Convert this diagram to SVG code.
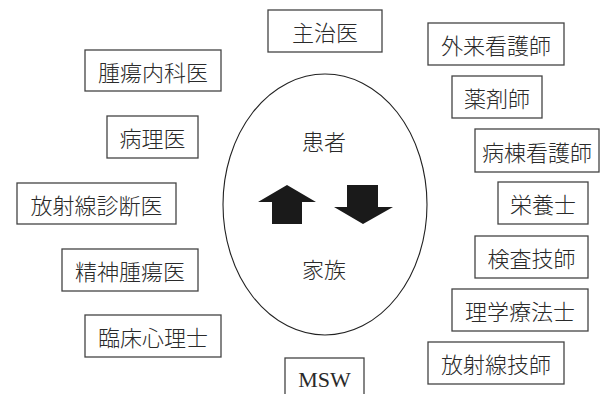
<svg xmlns="http://www.w3.org/2000/svg" width="603" height="394" viewBox="0 0 603 394">
<style>
.box{fill:#fff;stroke:#444;stroke-width:1.3}
.t{font-family:"Noto Sans CJK JP","Noto Sans CJK SC",sans-serif;font-size:22px;font-weight:300;fill:#2a2a2a;text-anchor:middle;dominant-baseline:central}
.s{font-family:"Liberation Serif",serif;font-size:22px;fill:#2a2a2a;text-anchor:middle}
.arr{fill:#1a1a1a}
</style>
<rect width="603" height="394" fill="#fff"/>
<g id="center">
<ellipse cx="325" cy="204.5" rx="102" ry="130.5" fill="none" stroke="#222" stroke-width="1.1"/>
<text class="t" x="324" y="140">患者</text>
<text class="t" x="324" y="268">家族</text>
</g>
<g id="connectors">
<polygon class="arr" points="258,202 287,185 316,202 302,202 302,224 272,224 272,202"/>
<polygon class="arr" points="347,185 378,185 378,207 393,207 363,224 334,207 347,207"/>
</g>
<g id="n1"><rect class="box" x="268" y="10" width="114" height="42"/><text class="t" x="325" y="31">主治医</text></g>
<g id="n2"><rect class="box" x="85" y="50" width="136" height="41"/><text class="t" x="153" y="70.5">腫瘍内科医</text></g>
<g id="n3"><rect class="box" x="107" y="116" width="91" height="42"/><text class="t" x="152.5" y="137">病理医</text></g>
<g id="n4"><rect class="box" x="17" y="183" width="159" height="41"/><text class="t" x="96.5" y="203.5">放射線診断医</text></g>
<g id="n5"><rect class="box" x="62" y="249" width="136" height="42"/><text class="t" x="130" y="270">精神腫瘍医</text></g>
<g id="n6"><rect class="box" x="85" y="315" width="136" height="42"/><text class="t" x="153" y="336">臨床心理士</text></g>
<g id="n7"><rect class="box" x="285" y="358" width="79" height="50"/><text class="s" x="324.5" y="387">MSW</text></g>
<g id="n8"><rect class="box" x="428" y="23" width="136" height="42"/><text class="t" x="496" y="44">外来看護師</text></g>
<g id="n9"><rect class="box" x="452" y="76" width="90" height="42"/><text class="t" x="497" y="97">薬剤師</text></g>
<g id="n10"><rect class="box" x="475" y="129" width="124" height="43"/><text class="t" x="537" y="150.5">病棟看護師</text></g>
<g id="n11"><rect class="box" x="498" y="182" width="90" height="42"/><text class="t" x="543" y="203">栄養士</text></g>
<g id="n12"><rect class="box" x="475" y="236" width="113" height="42"/><text class="t" x="531.5" y="257">検査技師</text></g>
<g id="n13"><rect class="box" x="452" y="289" width="136" height="42"/><text class="t" x="520" y="310">理学療法士</text></g>
<g id="n14"><rect class="box" x="428" y="342" width="136" height="42"/><text class="t" x="496" y="363">放射線技師</text></g>
</svg>
